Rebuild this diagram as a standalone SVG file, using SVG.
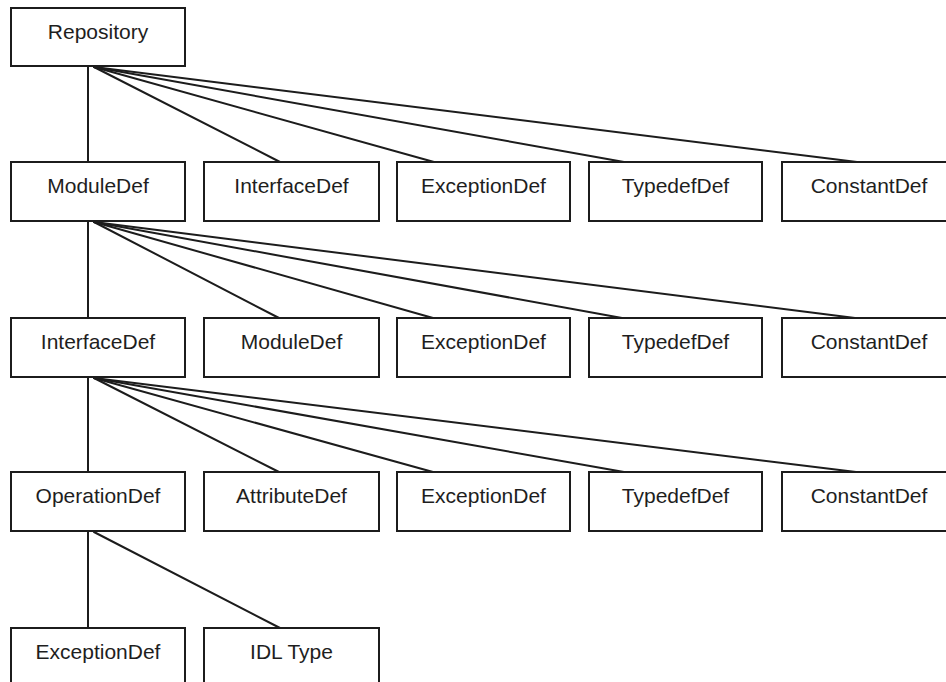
<svg xmlns="http://www.w3.org/2000/svg" width="946" height="682" viewBox="0 0 946 682">
  <style>
    .box rect { fill: #ffffff; stroke: #1c1c1c; stroke-width: 2; }
    .box text { font-family: "Liberation Sans", Arial, sans-serif; font-size: 21px; fill: #1e1e1e; text-anchor: middle; }
    #connectors line { stroke: #1c1c1c; stroke-width: 2; stroke-linecap: round; }
  </style>
  <rect x="0" y="0" width="946" height="682" fill="#ffffff"/>

  <!-- containment edges -->
  <g id="connectors">
    <!-- Repository -->
    <line x1="88" y1="66" x2="88" y2="162"/>
    <line x1="94" y1="67" x2="280" y2="162"/>
    <line x1="94" y1="67" x2="434" y2="162"/>
    <line x1="94" y1="67" x2="624" y2="162"/>
    <line x1="94" y1="67" x2="857" y2="162"/>
    <!-- ModuleDef -->
    <line x1="88" y1="221" x2="88" y2="318"/>
    <line x1="94" y1="222" x2="279" y2="318"/>
    <line x1="94" y1="222" x2="433" y2="318"/>
    <line x1="94" y1="222" x2="622" y2="318"/>
    <line x1="94" y1="222" x2="855" y2="318"/>
    <!-- InterfaceDef -->
    <line x1="88" y1="377" x2="88" y2="472"/>
    <line x1="94" y1="378" x2="279" y2="472"/>
    <line x1="94" y1="378" x2="433" y2="472"/>
    <line x1="94" y1="378" x2="624" y2="472"/>
    <line x1="94" y1="378" x2="856" y2="472"/>
    <!-- OperationDef -->
    <line x1="88" y1="531" x2="88" y2="628"/>
    <line x1="94" y1="532" x2="280" y2="628"/>
  </g>

  <!-- level 0 -->
  <g id="repository" class="box">
    <rect x="11" y="8" width="174" height="58"/>
    <text x="98" y="39">Repository</text>
  </g>

  <!-- level 1 -->
  <g id="moduledef-1" class="box">
    <rect x="11" y="162" width="174" height="59"/>
    <text x="98" y="193">ModuleDef</text>
  </g>
  <g id="interfacedef-1" class="box">
    <rect x="204" y="162" width="175" height="59"/>
    <text x="291.5" y="193">InterfaceDef</text>
  </g>
  <g id="exceptiondef-1" class="box">
    <rect x="397" y="162" width="173" height="59"/>
    <text x="483.5" y="193">ExceptionDef</text>
  </g>
  <g id="typedefdef-1" class="box">
    <rect x="589" y="162" width="173" height="59"/>
    <text x="675.5" y="193">TypedefDef</text>
  </g>
  <g id="constantdef-1" class="box">
    <rect x="782" y="162" width="174" height="59"/>
    <text x="869" y="193">ConstantDef</text>
  </g>

  <!-- level 2 -->
  <g id="interfacedef-2" class="box">
    <rect x="11" y="318" width="174" height="59"/>
    <text x="98" y="349">InterfaceDef</text>
  </g>
  <g id="moduledef-2" class="box">
    <rect x="204" y="318" width="175" height="59"/>
    <text x="291.5" y="349">ModuleDef</text>
  </g>
  <g id="exceptiondef-2" class="box">
    <rect x="397" y="318" width="173" height="59"/>
    <text x="483.5" y="349">ExceptionDef</text>
  </g>
  <g id="typedefdef-2" class="box">
    <rect x="589" y="318" width="173" height="59"/>
    <text x="675.5" y="349">TypedefDef</text>
  </g>
  <g id="constantdef-2" class="box">
    <rect x="782" y="318" width="174" height="59"/>
    <text x="869" y="349">ConstantDef</text>
  </g>

  <!-- level 3 -->
  <g id="operationdef" class="box">
    <rect x="11" y="472" width="174" height="59"/>
    <text x="98" y="503">OperationDef</text>
  </g>
  <g id="attributedef" class="box">
    <rect x="204" y="472" width="175" height="59"/>
    <text x="291.5" y="503">AttributeDef</text>
  </g>
  <g id="exceptiondef-3" class="box">
    <rect x="397" y="472" width="173" height="59"/>
    <text x="483.5" y="503">ExceptionDef</text>
  </g>
  <g id="typedefdef-3" class="box">
    <rect x="589" y="472" width="173" height="59"/>
    <text x="675.5" y="503">TypedefDef</text>
  </g>
  <g id="constantdef-3" class="box">
    <rect x="782" y="472" width="174" height="59"/>
    <text x="869" y="503">ConstantDef</text>
  </g>

  <!-- level 4 -->
  <g id="exceptiondef-4" class="box">
    <rect x="11" y="628" width="174" height="59"/>
    <text x="98" y="659">ExceptionDef</text>
  </g>
  <g id="idltype" class="box">
    <rect x="204" y="628" width="175" height="59"/>
    <text x="291.5" y="659">IDL Type</text>
  </g>
</svg>
